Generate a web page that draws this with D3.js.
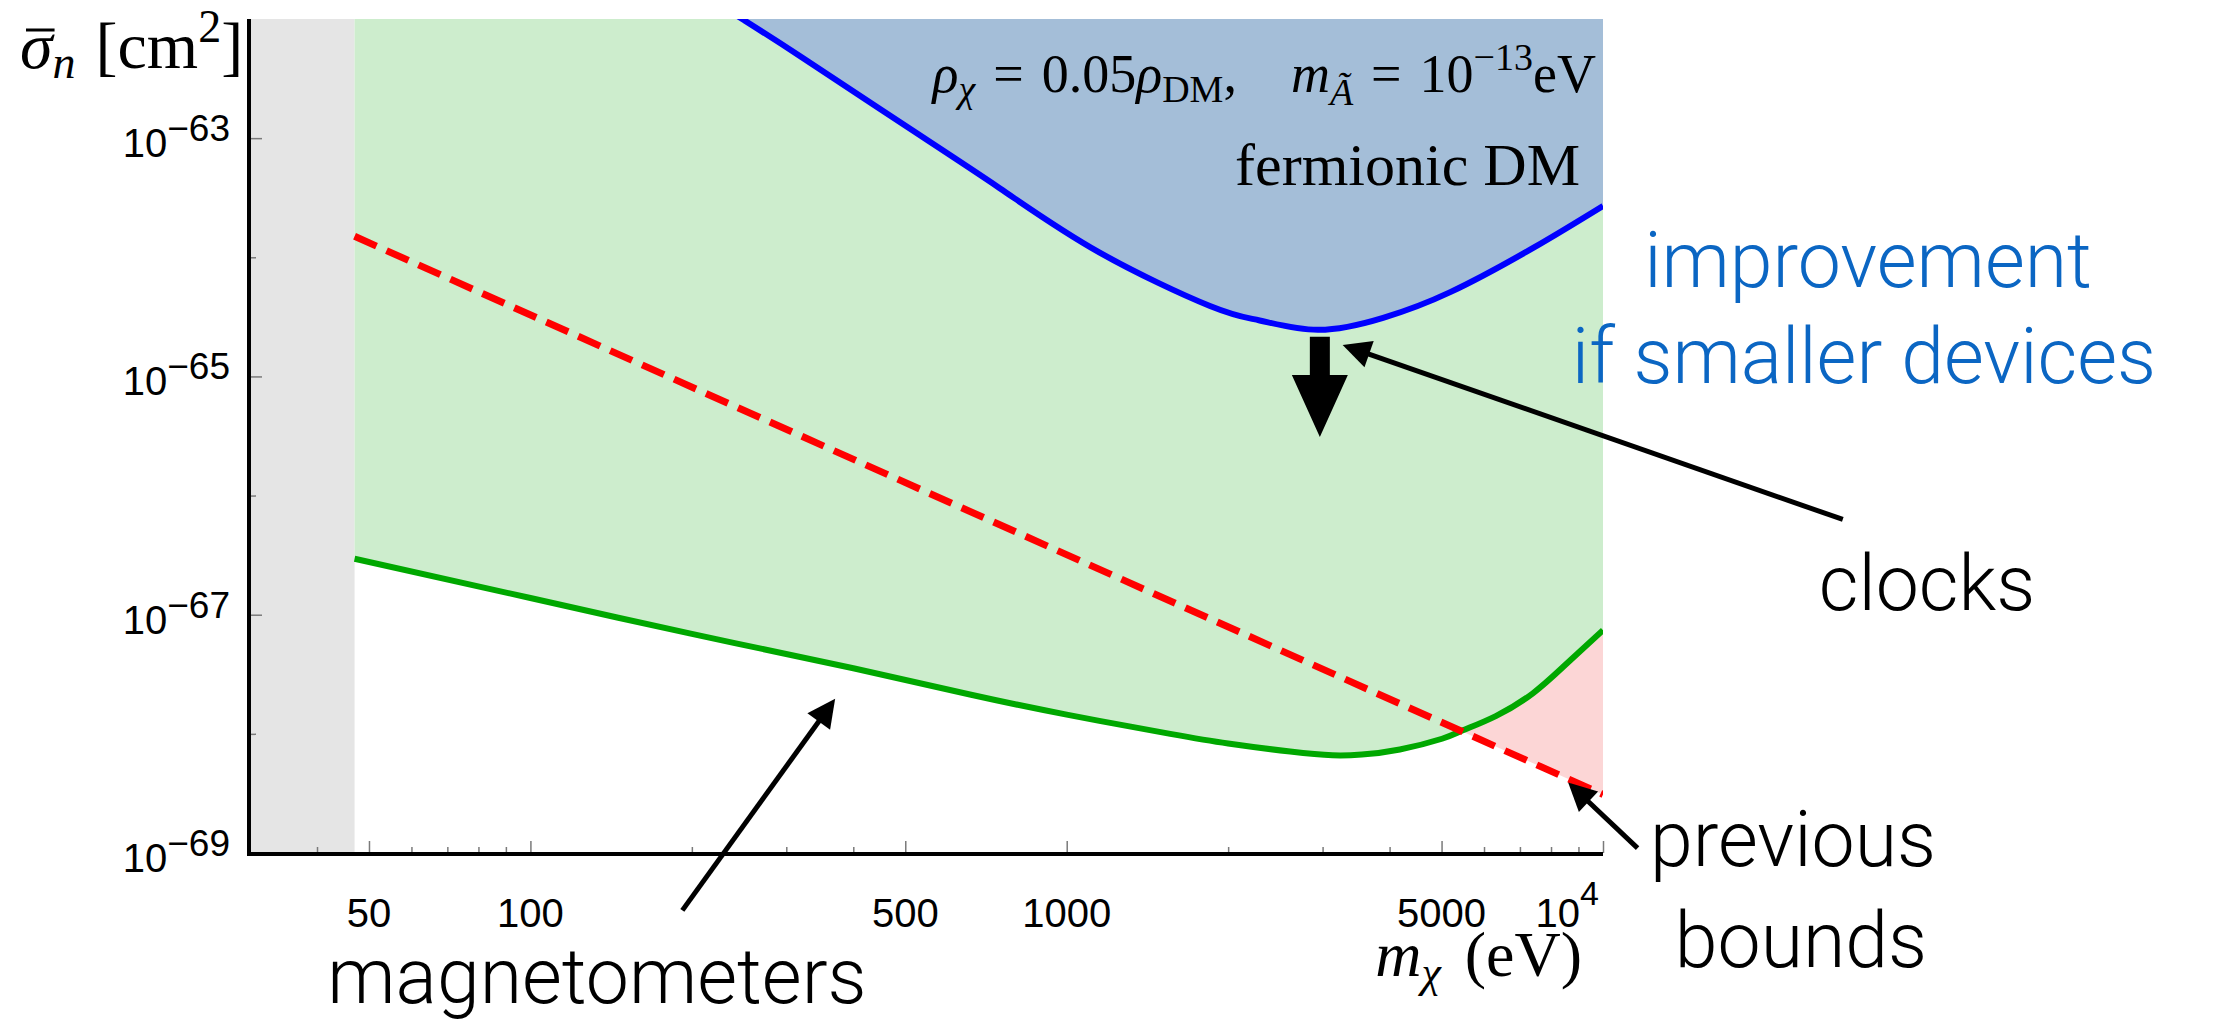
<!DOCTYPE html>
<html>
<head>
<meta charset="utf-8">
<script src="https://cdn.jsdelivr.net/npm/d3@7"></script>
<style>
  body { margin: 0; background: #fff; }
  svg { display: block; }
  .serif { font-family: "Liberation Serif", "DejaVu Serif", serif; }
  .sans { font-family: "Liberation Sans", Arial, sans-serif; }
  .note { font-family: Roboto, "Open Sans", sans-serif; font-weight: 300; }
</style>
</head>
<body>
<div id="chart"></div>
<script>
// m_chi in eV, sigma_n in cm^2
var greenMass = [47, 100, 200, 400, 660, 1000, 1560, 2000, 2610, 3130, 3550, 4180, 5010, 5480, 6310, 7400, 8510, 10000];
var greenSigma = [2.95e-67, 1.38e-67, 6.9e-68, 3.55e-68, 2.14e-68, 1.45e-68, 1.0e-68, 8.3e-69, 7.1e-69, 6.6e-69, 6.7e-69, 7.4e-69, 9.1e-69, 1.07e-68, 1.41e-68, 2.19e-68, 3.8e-68, 7.4e-68];

var blueMass = [220, 250, 320, 490, 750, 1150, 1850, 2290, 2940, 3890, 5190, 7410, 10000];
var blueSigma = [1.41e-62, 9.8e-63, 4.8e-63, 1.35e-63, 3.8e-64, 1.1e-64, 3.9e-65, 2.95e-65, 2.46e-65, 3.1e-65, 5.1e-65, 1.2e-64, 2.7e-64];

var redMass = [47, 10000];
var redSigma = [1.5e-64, 3.1e-69];

var greyMass = [30, 47];

var xMajor = [50, 100, 500, 1000, 5000, 10000];
var xMajorLabels = ["50", "100", "500", "1000", "5000", "10|4"];
var xMinor = [40, 60, 70, 80, 90, 200, 300, 400, 2000, 3000, 4000, 6000, 7000, 8000, 9000];
var yMajorExp = [-63, -65, -67, -69];
var yMinorExp = [-64, -66, -68];

// annotation arrows, [mass, sigma]
var arrowNotes = [
  { from: [28000, 6.3e-67], to: [3270, 1.84e-65] },
  { from: [192, 3.3e-70], to: [370, 1.97e-68] },
  { from: [11600, 1.1e-69], to: [8610, 3.9e-69] }
];
var downArrow = { mass: 2965, top: 2.15e-65, neck: 1.03e-65, tip: 3.1e-66 };

var width = 2214, height = 1025;
var x0 = 250, x1 = 1603, yTop = 19, yBot = 853;

var x = d3.scaleLog().domain([30, 10000]).range([x0, x1]);
var y = d3.scaleLog().domain([1e-69, 1e-62]).range([yBot, yTop]);

var svg = d3.select("#chart").append("svg")
  .attr("width", width).attr("height", height);

var defs = svg.append("defs");
defs.append("clipPath").attr("id", "plot-clip")
  .append("rect").attr("x", x0).attr("y", yTop)
  .attr("width", x1 - x0).attr("height", yBot - yTop);

var green = greenMass.map(function (m, i) { return { m: m, s: greenSigma[i] }; });
var blue = blueMass.map(function (m, i) { return { m: m, s: blueSigma[i] }; });
var red = redMass.map(function (m, i) { return { m: m, s: redSigma[i] }; });

var curve = d3.curveNatural;
var px = function (d) { return x(d.m); };
var py = function (d) { return y(d.s); };

// region below the green curve, used to cut out the pink area
defs.append("clipPath").attr("id", "below-green")
  .append("path")
  .attr("d", d3.area().x(px).y0(yBot).y1(py).curve(curve)(green));

var plot = svg.append("g").attr("clip-path", "url(#plot-clip)");

plot.append("rect")
  .attr("x", x(greyMass[0])).attr("y", yTop)
  .attr("width", x(greyMass[1]) - x(greyMass[0])).attr("height", yBot - yTop)
  .attr("fill", "#e5e5e5");

plot.append("path")
  .attr("d", d3.area().x(px).y0(yTop).y1(py).curve(curve)(green))
  .attr("fill", "#cdedcd");

plot.append("path")
  .attr("d", d3.area().x(px).y0(yTop).y1(py).curve(curve)(blue))
  .attr("fill", "#a4bed8");

plot.append("g").attr("clip-path", "url(#below-green)")
  .append("path")
  .attr("d", d3.area().x(px).y0(yTop).y1(py)(red))
  .attr("fill", "#fcd6d6");

plot.append("path").attr("d", d3.line().x(px).y(py).curve(curve)(green))
  .attr("fill", "none").attr("stroke", "#00a800").attr("stroke-width", 6);

plot.append("path").attr("d", d3.line().x(px).y(py)(red))
  .attr("fill", "none").attr("stroke", "#ff0000").attr("stroke-width", 7)
  .attr("stroke-dasharray", "24,11");

plot.append("path").attr("d", d3.line().x(px).y(py).curve(curve)(blue))
  .attr("fill", "none").attr("stroke", "#0000ff").attr("stroke-width", 6);

// axes
function styleAxis(g) {
  g.selectAll(".tick line").attr("stroke", "#7a7a7a").attr("stroke-width", 1.5);
  g.select(".domain").remove();
}

var gx = svg.append("g").attr("transform", "translate(0," + yBot + ")");
gx.call(d3.axisBottom(x).tickValues(xMajor).tickSizeInner(-12).tickSizeOuter(0).tickFormat(""));
styleAxis(gx);
var gx2 = svg.append("g").attr("transform", "translate(0," + yBot + ")");
gx2.call(d3.axisBottom(x).tickValues(xMinor).tickSizeInner(-6).tickSizeOuter(0).tickFormat(""));
styleAxis(gx2);

var gy = svg.append("g").attr("transform", "translate(" + x0 + ",0)");
gy.call(d3.axisLeft(y).tickValues(yMajorExp.map(function (e) { return Math.pow(10, e); }))
  .tickSizeInner(-12).tickSizeOuter(0).tickFormat(""));
styleAxis(gy);
var gy2 = svg.append("g").attr("transform", "translate(" + x0 + ",0)");
gy2.call(d3.axisLeft(y).tickValues(yMinorExp.map(function (e) { return Math.pow(10, e); }))
  .tickSizeInner(-6).tickSizeOuter(0).tickFormat(""));
styleAxis(gy2);

svg.append("path")
  .attr("d", "M" + (x0 - 1) + "," + yTop + "V" + (yBot + 1) + "H" + x1)
  .attr("fill", "none").attr("stroke", "#000").attr("stroke-width", 4);

// y tick labels
yMajorExp.forEach(function (e) {
  var t = svg.append("text").attr("class", "sans")
    .attr("x", x0 - 20).attr("y", y(Math.pow(10, e)) + 19)
    .attr("text-anchor", "end").attr("font-size", 40).attr("fill", "#000");
  t.append("tspan").text("10");
  t.append("tspan").attr("dy", -16).attr("font-size", 37).text("\u2212" + (-e));
});

// x tick labels
xMajor.forEach(function (v, i) {
  var lab = xMajorLabels[i].split("|");
  var t = svg.append("text").attr("class", "sans")
    .attr("y", yBot + 74).attr("font-size", 40).attr("fill", "#000");
  if (lab.length === 1) {
    t.attr("x", x(v)).attr("text-anchor", "middle").text(lab[0]);
  } else {
    t.attr("x", x(v) - 4).attr("text-anchor", "end");
    t.append("tspan").text(lab[0]);
    t.append("tspan").attr("dy", -22).attr("font-size", 34).text(lab[1]);
  }
});

// axis titles
var yt = svg.append("text").attr("class", "serif").attr("x", 20).attr("y", 68)
  .attr("font-size", 66).attr("fill", "#000");
yt.append("tspan").attr("font-style", "italic").text("\u03c3");
yt.append("tspan").attr("font-style", "italic").attr("font-size", 46).attr("dy", 10).text("n");
yt.append("tspan").attr("dy", -10).attr("dx", 20).text("[cm");
yt.append("tspan").attr("font-size", 46).attr("dy", -26).text("2");
yt.append("tspan").attr("dy", 26).text("]");
var sb = yt.node().getExtentOfChar(0);
svg.append("line")
  .attr("x1", sb.x + 6).attr("x2", sb.x + sb.width + 2)
  .attr("y1", 30).attr("y2", 30)
  .attr("stroke", "#000").attr("stroke-width", 3);

var xt = svg.append("text").attr("class", "serif").attr("x", 1582).attr("y", 976)
  .attr("text-anchor", "end").attr("font-size", 64).attr("fill", "#000");
xt.append("tspan").attr("font-style", "italic").text("m");
xt.append("tspan").attr("font-style", "italic").attr("font-size", 44).attr("dy", 11).text("\u03c7");
xt.append("tspan").attr("dy", -11).attr("dx", 24).text("(eV)");

// in-plot labels
var p1 = svg.append("text").attr("class", "serif").attr("x", 1596).attr("y", 92)
  .attr("text-anchor", "end").attr("font-size", 54).attr("fill", "#000");
p1.append("tspan").attr("font-style", "italic").text("\u03c1");
p1.append("tspan").attr("font-style", "italic").attr("font-size", 38).attr("dy", 10).text("\u03c7");
p1.append("tspan").attr("dy", -10).text("\u2004=\u20040.05");
p1.append("tspan").attr("font-style", "italic").text("\u03c1");
p1.append("tspan").attr("font-size", 38).attr("dy", 10).text("DM");
p1.append("tspan").attr("dy", -10).text(",\u2003");
p1.append("tspan").attr("font-style", "italic").text("m");
p1.append("tspan").attr("font-style", "italic").attr("font-size", 38).attr("dy", 13).text("\u00c3");
p1.append("tspan").attr("dy", -13).text("\u2004=\u200410");
p1.append("tspan").attr("font-size", 38).attr("dy", -22).text("\u221213");
p1.append("tspan").attr("dy", 22).text("eV");

svg.append("text").attr("class", "serif").attr("x", 1580).attr("y", 185)
  .attr("text-anchor", "end").attr("font-size", 60).attr("fill", "#000")
  .text("fermionic DM");

// annotations
var notes = [
  { text: "improvement", x: 1868, y: 287, color: "#0b66c3" },
  { text: "if smaller devices", x: 1864, y: 383, color: "#0b66c3" },
  { text: "clocks", x: 1927, y: 610, color: "#000" },
  { text: "previous", x: 1793, y: 866, color: "#000" },
  { text: "bounds", x: 1801, y: 967, color: "#000" },
  { text: "magnetometers", x: 597, y: 1003, color: "#000" }
];
svg.selectAll(".note").data(notes).enter().append("text")
  .attr("class", "note")
  .attr("x", function (d) { return d.x; }).attr("y", function (d) { return d.y; })
  .attr("text-anchor", "middle").attr("font-size", 77)
  .attr("fill", function (d) { return d.color; })
  .text(function (d) { return d.text; });

function arrow(g, ax, ay, bx, by) {
  var dx = bx - ax, dy = by - ay, L = Math.sqrt(dx * dx + dy * dy);
  var ux = dx / L, uy = dy / L, head = 28, hw = 14;
  var hx = bx - ux * head, hy = by - uy * head;
  g.append("line").attr("x1", ax).attr("y1", ay).attr("x2", hx + ux * 4).attr("y2", hy + uy * 4)
    .attr("stroke", "#000").attr("stroke-width", 5);
  g.append("path")
    .attr("d", "M" + bx + "," + by + "L" + (hx - uy * hw) + "," + (hy + ux * hw) +
      "L" + (hx + uy * hw) + "," + (hy - ux * hw) + "Z")
    .attr("fill", "#000");
}
var ag = svg.append("g");
arrowNotes.forEach(function (a) {
  arrow(ag, x(a.from[0]), y(a.from[1]), x(a.to[0]), y(a.to[1]));
});

var cx = x(downArrow.mass), yA = y(downArrow.top), yN = y(downArrow.neck), yT = y(downArrow.tip);
ag.append("path")
  .attr("d", "M" + (cx - 10) + "," + yA + "H" + (cx + 10) + "V" + yN + "H" + (cx + 28) +
    "L" + cx + "," + yT + "L" + (cx - 28) + "," + yN + "H" + (cx - 10) + "Z")
  .attr("fill", "#000");
</script>
</body>
</html>
